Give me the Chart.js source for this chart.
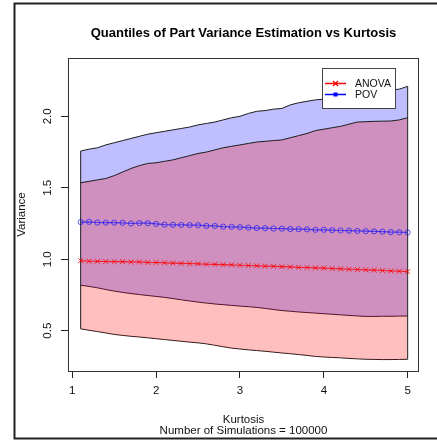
<!DOCTYPE html>
<html>
<head>
<meta charset="utf-8">
<title>Quantiles of Part Variance Estimation vs Kurtosis</title>
<script src="https://cdn.jsdelivr.net/npm/chart.js@4"></script>
<style>
  html, body { margin: 0; padding: 0; background: #fff; }
  #chart { display: block; }
</style>
</head>
<body>
<canvas id="chart" width="437" height="441"></canvas>
<script>
const kurtosis = [1.1, 1.2, 1.3, 1.4, 1.5, 1.6, 1.7, 1.8, 1.9, 2.0, 2.1, 2.2, 2.3, 2.4, 2.5, 2.6, 2.7, 2.8, 2.9, 3.0,
  3.1, 3.2, 3.3, 3.4, 3.5, 3.6, 3.7, 3.8, 3.9, 4.0, 4.1, 4.2, 4.3, 4.4, 4.5, 4.6, 4.7, 4.8, 4.9, 5.0];

const anovaMedian = [0.990, 0.986, 0.985, 0.984, 0.983, 0.983, 0.981, 0.981, 0.978, 0.977, 0.975, 0.973, 0.971, 0.970, 0.968, 0.965, 0.964, 0.962, 0.961, 0.958,
  0.956, 0.954, 0.952, 0.950, 0.948, 0.946, 0.943, 0.942, 0.940, 0.938, 0.935, 0.933, 0.930, 0.928, 0.926, 0.924, 0.921, 0.918, 0.916, 0.914];
const anovaLow = [0.513, 0.503, 0.494, 0.484, 0.474, 0.467, 0.461, 0.456, 0.450, 0.444, 0.438, 0.432, 0.426, 0.420, 0.415, 0.408, 0.398, 0.388, 0.378, 0.372,
  0.366, 0.361, 0.356, 0.350, 0.344, 0.339, 0.333, 0.327, 0.320, 0.316, 0.313, 0.310, 0.306, 0.303, 0.300, 0.299, 0.298, 0.298, 0.299, 0.300];
const anovaHigh = [1.535, 1.545, 1.555, 1.565, 1.585, 1.610, 1.635, 1.655, 1.670, 1.675, 1.685, 1.695, 1.710, 1.725, 1.740, 1.750, 1.765, 1.780, 1.790, 1.800,
  1.810, 1.820, 1.825, 1.830, 1.835, 1.850, 1.865, 1.880, 1.900, 1.910, 1.920, 1.930, 1.945, 1.960, 1.962, 1.965, 1.966, 1.967, 1.975, 1.990];

const povMedian = [1.260, 1.262, 1.257, 1.256, 1.256, 1.255, 1.250, 1.253, 1.252, 1.247, 1.242, 1.241, 1.240, 1.239, 1.238, 1.233, 1.233, 1.228, 1.227, 1.224,
  1.221, 1.218, 1.217, 1.215, 1.214, 1.211, 1.210, 1.209, 1.206, 1.206, 1.204, 1.201, 1.200, 1.198, 1.196, 1.195, 1.193, 1.190, 1.189, 1.187];
const povLow = [0.818, 0.810, 0.800, 0.788, 0.777, 0.768, 0.760, 0.753, 0.746, 0.740, 0.733, 0.725, 0.716, 0.708, 0.700, 0.693, 0.687, 0.682, 0.677, 0.672,
  0.668, 0.663, 0.656, 0.648, 0.641, 0.636, 0.631, 0.627, 0.623, 0.619, 0.615, 0.611, 0.607, 0.603, 0.600, 0.600, 0.601, 0.601, 0.602, 0.603];
const povHigh = [1.757, 1.770, 1.780, 1.800, 1.815, 1.830, 1.845, 1.860, 1.875, 1.885, 1.895, 1.905, 1.915, 1.925, 1.940, 1.950, 1.960, 1.975, 1.990, 2.000,
  2.020, 2.035, 2.040, 2.050, 2.055, 2.080, 2.095, 2.105, 2.115, 2.120, 2.130, 2.140, 2.150, 2.160, 2.165, 2.170, 2.180, 2.185, 2.190, 2.210];

const xTicks = [1, 2, 3, 4, 5];
const yTicks = [0.5, 1.0, 1.5, 2.0];

const fontFamily = '"Liberation Sans", Arial, sans-serif';
const edgeColor = '#1c1c1c';
const anovaColor = 'rgba(255, 0, 0, 0.8)';
const povColor = 'rgba(0, 0, 255, 0.6)';

const points = (values) => values.map((y, i) => ({ x: kurtosis[i], y }));
const last = kurtosis.length - 1;
const edge = (i) => [{ x: kurtosis[i], y: anovaLow[i] }, { x: kurtosis[i], y: povHigh[i] }];

const bandLine = (data, extra) => ({
  data,
  borderColor: edgeColor,
  borderWidth: 1,
  pointRadius: 0,
  tension: 0,
  fill: false,
  ...extra,
});

const chromePlugin = {
  id: 'chrome',
  afterDraw(chart) {
    const { ctx, chartArea: a } = chart;
    ctx.save();
    ctx.strokeStyle = '#222';
    ctx.lineWidth = 2;
    ctx.beginPath();
    ctx.moveTo(460, 3.5);
    ctx.lineTo(14.5, 3.5);
    ctx.lineTo(14.5, 438.5);
    ctx.lineTo(460, 438.5);
    ctx.stroke();

    ctx.strokeStyle = '#333';
    ctx.lineWidth = 1;
    ctx.strokeRect(a.left + 0.5, a.top + 0.5, a.right - a.left - 1, a.bottom - a.top);

    ctx.fillStyle = '#000';
    ctx.font = `bold 13px ${fontFamily}`;
    ctx.textAlign = 'center';
    ctx.textBaseline = 'middle';
    ctx.fillText('Quantiles of Part Variance Estimation vs Kurtosis', (a.left + a.right) / 2, 33);

    const box = { x: 322.5, y: 68.5, w: 73, h: 40 };
    ctx.fillStyle = '#fff';
    ctx.fillRect(box.x, box.y, box.w, box.h);
    ctx.strokeStyle = '#444';
    ctx.strokeRect(box.x, box.y, box.w, box.h);

    const items = [
      { label: 'ANOVA', color: '#ff0000', y: 83.5, marker: 'x' },
      { label: 'POV', color: '#0000ff', y: 94.5, marker: 'square' },
    ];
    items.forEach((item) => {
      ctx.strokeStyle = item.color;
      ctx.fillStyle = item.color;
      ctx.lineWidth = 1.5;
      ctx.beginPath();
      ctx.moveTo(325, item.y);
      ctx.lineTo(346, item.y);
      ctx.stroke();
      if (item.marker === 'x') {
        ctx.lineWidth = 1.2;
        ctx.beginPath();
        ctx.moveTo(333, item.y - 2.5);
        ctx.lineTo(338, item.y + 2.5);
        ctx.moveTo(338, item.y - 2.5);
        ctx.lineTo(333, item.y + 2.5);
        ctx.stroke();
      } else {
        ctx.fillRect(333.5, item.y - 2, 4, 4);
      }
      ctx.fillStyle = '#111';
      ctx.font = `10.5px ${fontFamily}`;
      ctx.textAlign = 'left';
      ctx.fillText(item.label, 355, item.y + 0.5);
    });
    ctx.restore();
  },
};

new Chart(document.getElementById('chart'), {
  type: 'line',
  data: {
    datasets: [
      {
        label: 'ANOVA',
        data: points(anovaMedian),
        borderColor: anovaColor,
        borderWidth: 1.2,
        pointStyle: 'crossRot',
        pointRadius: 3.5,
        pointBorderColor: anovaColor,
        pointBorderWidth: 1,
        fill: false,
        order: 0,
      },
      {
        label: 'POV',
        data: points(povMedian),
        borderColor: povColor,
        borderWidth: 1.2,
        pointStyle: 'circle',
        pointRadius: 2.6,
        pointBackgroundColor: 'rgba(0, 0, 0, 0)',
        pointBorderColor: povColor,
        pointBorderWidth: 1,
        fill: false,
        order: 0,
      },
      { data: [...edge(0)], borderColor: edgeColor, borderWidth: 1, pointRadius: 0, fill: false, order: 1 },
      { data: [...edge(last)], borderColor: edgeColor, borderWidth: 1, pointRadius: 0, fill: false, order: 1 },
      bandLine(points(anovaHigh), { fill: '+1', backgroundColor: 'rgba(255, 0, 0, 0.25)', order: 2 }),
      bandLine(points(anovaLow), { order: 2 }),
      bandLine(points(povHigh), { fill: '+1', backgroundColor: 'rgba(0, 0, 255, 0.25)', order: 3 }),
      bandLine(points(povLow), { order: 3 }),
    ],
  },
  options: {
    responsive: false,
    animation: false,
    devicePixelRatio: 1,
    layout: { padding: { top: 58, right: 18, bottom: 0, left: 0 } },
    plugins: {
      legend: { display: false },
      tooltip: { enabled: false },
      title: { display: false },
    },
    scales: {
      x: {
        type: 'linear',
        min: 0.949,
        max: 5.135,
        afterBuildTicks: (scale) => { scale.ticks = xTicks.map((value) => ({ value })); },
        afterFit: (scale) => { scale.height = 70; },
        border: { display: false },
        grid: { drawOnChartArea: false, drawTicks: true, tickLength: 7, color: '#222' },
        ticks: {
          color: '#111',
          padding: 6,
          maxRotation: 0,
          font: { family: fontFamily, size: 11.5 },
          callback: (value) => String(value),
        },
        title: {
          display: true,
          text: ['Kurtosis', 'Number of Simulations = 100000'],
          color: '#111',
          font: { family: fontFamily, size: 11.5, lineHeight: 0.96 },
          padding: { top: 0, bottom: 5 },
        },
      },
      y: {
        type: 'linear',
        min: 0.218,
        max: 2.408,
        afterBuildTicks: (scale) => { scale.ticks = yTicks.map((value) => ({ value })); },
        afterFit: (scale) => { scale.width = 68; },
        border: { display: false },
        grid: { drawOnChartArea: false, drawTicks: true, tickLength: 7, color: '#222' },
        ticks: {
          color: '#111',
          padding: 5,
          minRotation: 90,
          maxRotation: 90,
          crossAlign: 'center',
          font: { family: fontFamily, size: 11.5 },
          callback: (value) => value.toFixed(1),
        },
        title: {
          display: true,
          text: 'Variance',
          color: '#111',
          font: { family: fontFamily, size: 11.5 },
          padding: { top: 15, bottom: 0 },
        },
      },
    },
  },
  plugins: [chromePlugin],
});
</script>
</body>
</html>
